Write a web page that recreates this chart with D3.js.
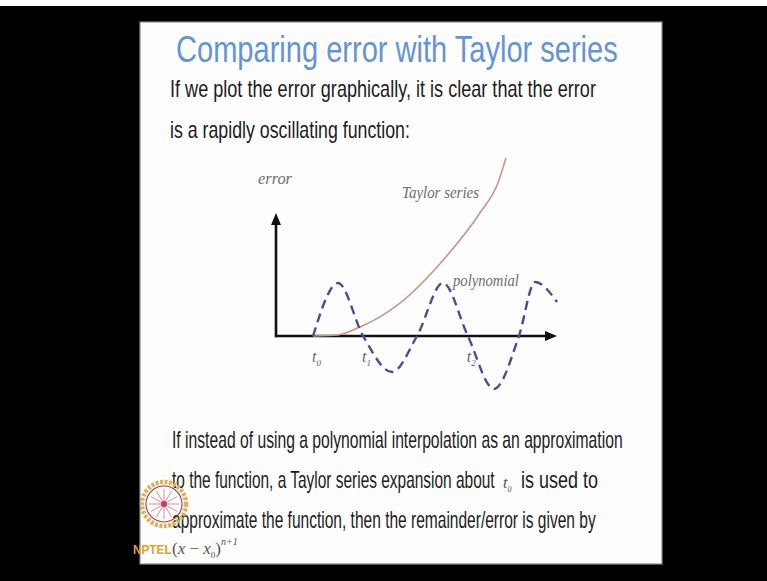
<!DOCTYPE html>
<html>
<head>
<meta charset="utf-8">
<script src="https://cdn.jsdelivr.net/npm/d3@7"></script>
<style>
  html, body { margin: 0; padding: 0; background: #000; }
  svg { display: block; }
</style>
</head>
<body>
<svg id="chart" width="767" height="581"></svg>
<script>
// Polynomial interpolation error: zero crossings and extrema
const polyX = [1.45, 2.43, 3.41, 4.54, 5.52, 6.54, 7.51, 8.53, 9.51, 10.14, 11.0];
const polyY = [0, 1.0, 0, -0.68, 0, 1.0, 0, -1.0, 0, 1.02, 0.64];

// Taylor series remainder, growing away from t0
const taylorX = [1.45, 2.43, 3.29, 4.07, 4.85, 6.54, 7.98, 8.69, 9.0];
const taylorY = [0, 0.02, 0.17, 0.36, 0.62, 1.43, 2.32, 2.89, 3.36];

// Node positions marked on the horizontal axis
const tickX = [1.45, 3.41, 7.51];
const tickLabels = ["0", "1", "2"];

const xMax = 11;
const yMax = 2.32;

const svg = d3.select("#chart");

// page and slide
svg.append("rect").attr("x", 0).attr("y", 0).attr("width", 767).attr("height", 581).attr("fill", "#000");
svg.append("rect").attr("x", 0).attr("y", 0).attr("width", 767).attr("height", 6).attr("fill", "#fff");
svg.append("rect").attr("x", 140).attr("y", 22).attr("width", 522).attr("height", 542)
  .attr("fill", "#fdfdfd").attr("stroke", "#8c8c8c").attr("stroke-width", 1.2);

const sans = "'Liberation Sans Narrow','Arial Narrow','Liberation Sans',Arial,sans-serif";
const serif = "'Liberation Serif','Times New Roman',serif";

// Text squeezed horizontally to a given width
function fitText(parent, txt, x, y, size, len, color, family, italic) {
  const t = parent.append("text").attr("x", 0).attr("y", 0)
    .attr("font-family", family || sans).attr("font-size", size)
    .attr("font-style", italic ? "italic" : "normal")
    .attr("fill", color || "#1c1c1c")
    .text(txt);
  const w = t.node().getComputedTextLength() || len;
  t.attr("transform", `translate(${x},${y}) scale(${len / w},1)`);
  return t;
}

// title and body text
fitText(svg, "Comparing error with Taylor series", 176, 62, 37, 442, "#6594d2");
fitText(svg, "If we plot the error graphically, it is clear that the error", 170, 97, 23, 426);
fitText(svg, "is a rapidly oscillating function:", 170, 138, 23, 240);

fitText(svg, "If instead of using a polynomial interpolation as an approximation", 172, 448, 23, 451);
fitText(svg, "to the function, a Taylor series expansion about", 172, 488, 23, 323);
const tInline = svg.append("text").attr("x", 503).attr("y", 488)
  .attr("font-family", serif).attr("font-style", "italic").attr("font-size", 16).attr("fill", "#555");
tInline.append("tspan").text("t");
tInline.append("tspan").attr("dy", 4).attr("font-size", 8).text("0");
fitText(svg, "is used to", 521, 488, 23, 77);
fitText(svg, "approximate the function, then the remainder/error is given by", 172, 528, 23, 424);

const formula = svg.append("text").attr("x", 172).attr("y", 554)
  .attr("font-family", serif).attr("font-size", 17).attr("fill", "#555");
formula.append("tspan").text("(");
formula.append("tspan").attr("font-style", "italic").text("x");
formula.append("tspan").text(" \u2212 ");
formula.append("tspan").attr("font-style", "italic").text("x");
formula.append("tspan").attr("dy", 4).attr("font-size", 9).text("0");
formula.append("tspan").attr("dy", -4).text(")");
formula.append("tspan").attr("dy", -9).attr("font-size", 10).attr("font-style", "italic").text("n+1");

// chart scales
const x = d3.scaleLinear().domain([0, xMax]).range([276, 557]);
const y = d3.scaleLinear().domain([0, 1]).range([336, 283]);

const defs = svg.append("defs");
defs.append("marker").attr("id", "arrow")
  .attr("viewBox", "0 0 12 10").attr("refX", 4).attr("refY", 5)
  .attr("markerWidth", 12).attr("markerHeight", 10)
  .attr("markerUnits", "userSpaceOnUse").attr("orient", "auto")
  .append("path").attr("d", "M0,0L12,5L0,10Z").attr("fill", "#111");

const chart = svg.append("g");

// axes
chart.append("line")
  .attr("x1", x(0)).attr("y1", y(0)).attr("x2", x(xMax) - 8).attr("y2", y(0))
  .attr("stroke", "#111").attr("stroke-width", 2.6).attr("marker-end", "url(#arrow)");
chart.append("line")
  .attr("x1", x(0)).attr("y1", y(0) + 1.3).attr("x2", x(0)).attr("y2", y(yMax) + 8)
  .attr("stroke", "#111").attr("stroke-width", 2.6).attr("marker-end", "url(#arrow)");

// Taylor series remainder
const taylorLine = d3.line().x(d => x(d[0])).y(d => y(d[1])).curve(d3.curveMonotoneX);
chart.append("path")
  .datum(d3.zip(taylorX, taylorY))
  .attr("d", taylorLine)
  .attr("fill", "none").attr("stroke", "#c4978a").attr("stroke-width", 1.6);

// polynomial interpolation error
const polyLine = d3.line().x(d => x(d[0])).y(d => y(d[1])).curve(d3.curveMonotoneX);
chart.append("path")
  .datum(d3.zip(polyX, polyY))
  .attr("d", polyLine)
  .attr("fill", "none").attr("stroke", "#484d94").attr("stroke-width", 2.4)
  .attr("stroke-dasharray", "9,5.5");

// node labels t0, t1, t2
const ticks = chart.selectAll("text.tick").data(tickX).enter().append("text")
  .attr("class", "tick")
  .attr("x", d => x(d) - 1).attr("y", y(0) + 26)
  .attr("font-family", serif).attr("font-style", "italic").attr("font-size", 16).attr("fill", "#666");
ticks.append("tspan").text("t");
ticks.append("tspan").attr("dy", 4).attr("font-size", 9).text((d, i) => tickLabels[i]);

// curve and axis labels
fitText(chart, "error", 258, 184, 16, 34, "#6e6e6e", serif, true);
fitText(chart, "Taylor series", 402, 198, 16, 77, "#6e6e6e", serif, true);
fitText(chart, "polynomial", 453, 286, 16, 66, "#6e6e6e", serif, true);

// NPTEL emblem
const logo = svg.append("g").attr("transform", "translate(164,504)");
logo.append("circle").attr("r", 22).attr("fill", "none").attr("stroke", "#d9b060").attr("stroke-width", 4.5)
  .attr("stroke-dasharray", "3,1.5");
logo.append("circle").attr("r", 18).attr("fill", "none").attr("stroke", "#a33a3a").attr("stroke-width", 1.1);
d3.range(12).forEach(i => {
  const a = i * Math.PI / 6;
  logo.append("line").attr("x1", 0).attr("y1", 0)
    .attr("x2", 15 * Math.cos(a)).attr("y2", 15 * Math.sin(a))
    .attr("stroke", "#d98a9a").attr("stroke-width", 1);
});
logo.append("circle").attr("r", 3).attr("fill", "#c04060");
fitText(svg, "NPTEL", 133, 554, 12, 38, "#e0a030", "'Liberation Sans',Arial,sans-serif").attr("font-weight", "bold");
</script>
</body>
</html>
